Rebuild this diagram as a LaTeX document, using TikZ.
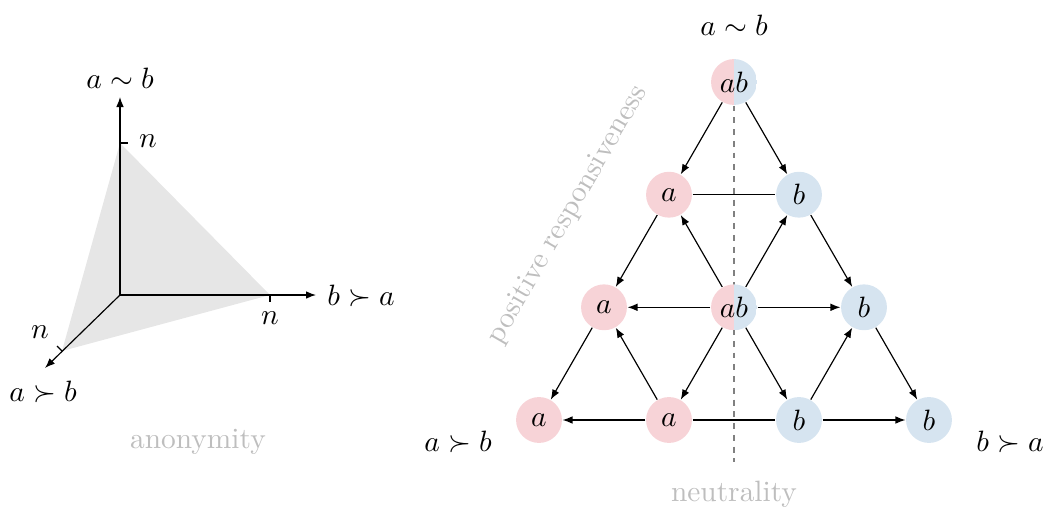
\documentclass[tikz,border=0pt]{standalone}
\usetikzlibrary{arrows.meta}
\definecolor{pinkc}{RGB}{247,211,215}
\definecolor{bluec}{RGB}{214,228,240}
\definecolor{lbl}{RGB}{190,190,190}
\definecolor{tri}{RGB}{230,230,230}
\tikzset{
  v/.style={circle, minimum size=15.6pt, inner sep=0pt},
  va/.style={v, fill=pinkc},
  vb/.style={v, fill=bluec},
  vab/.style={v, path picture={
      \fill[pinkc] (path picture bounding box.south west) rectangle (path picture bounding box.north);
      \fill[bluec] (path picture bounding box.south) rectangle (path picture bounding box.north east);}},
  arr/.style={-{Latex[length=3.4pt,width=2.6pt]}},
  note/.style={text=lbl},
  lab/.style={inner sep=0pt},
}
\begin{document}
\begin{tikzpicture}[x=0.34pt,y=-0.34pt]
\useasboundingbox (0,0) rectangle (1046,511);
% ---------- left: anonymity ----------
\coordinate (O) at (120,295);
\coordinate (Yn) at (120,143);
\coordinate (Xn) at (270,295);
\coordinate (Zn) at (62,351);
\coordinate (Yt) at (120,97);
\coordinate (Xt) at (316,295);
\coordinate (Zt) at (45,368);
\fill[tri] (Yn) -- (Xn) -- (Zn) -- cycle;
\draw[arr] (O) -- (Yt);
\draw[arr] (O) -- (Xt);
\draw[arr] (O) -- (Zt);
\draw (Yn) -- ++(8,0);
\draw (Xn) -- ++(0,7);
\draw (Zn) -- ++(-5,-5);
\node[lab] (ly) at (120,78) {$a \sim b$};
\node[lab] (lx) at (361,296) {$b \succ a$};
\node[lab] (lz) at (43,392) {$a \succ b$};
\node[lab] (ny) at (148,141) {$n$};
\node[lab] (nx) at (270,318) {$n$};
\node[lab] (nz) at (40,332) {$n$};
\node[note] (anon) at (198,442) {anonymity};
% ---------- right: lattice ----------
\draw[gray, dashed, dash pattern=on 2pt off 2pt] (734,82) -- (734,462);
\node[vab] (t) at (734,82) {$ab$};
\node[va] (m1a) at (669,194.7) {$a$};
\node[vb] (m1b) at (799,194.7) {$b$};
\node[va] (m2a) at (604,307.3) {$a$};
\node[vab] (m2c) at (734,307.3) {$ab$};
\node[vb] (m2b) at (864,307.3) {$b$};
\node[va] (b1) at (539,420) {$a$};
\node[va] (b2) at (669,420) {$a$};
\node[vb] (b3) at (799,420) {$b$};
\node[vb] (b4) at (929,420) {$b$};
\draw[arr] (t) -- (m1a);
\draw[arr] (t) -- (m1b);
\draw (m1a) -- (m1b);
\draw[arr] (m1a) -- (m2a);
\draw[arr] (m1b) -- (m2b);
\draw[arr] (m2c) -- (m1a);
\draw[arr] (m2c) -- (m1b);
\draw[arr] (m2c) -- (m2a);
\draw[arr] (m2c) -- (m2b);
\draw[arr] (m2c) -- (b2);
\draw[arr] (m2c) -- (b3);
\draw[arr] (m2a) -- (b1);
\draw[arr] (m2b) -- (b4);
\draw[arr] (b2) -- (m2a);
\draw[arr] (b3) -- (m2b);
\draw[arr] (b2) -- (b1);
\draw[arr] (b3) -- (b4);
\draw (b2) -- (b3);
\node[lab] (rt) at (734,25) {$a \sim b$};
\node[lab] (rl) at (458,442) {$a \succ b$};
\node[lab] (rr) at (1010,442) {$b \succ a$};
\node[note] (neut) at (734,494) {neutrality};
\node[note, rotate=60] (pos) at (568,215) {positive responsiveness};
\end{tikzpicture}
\end{document}
